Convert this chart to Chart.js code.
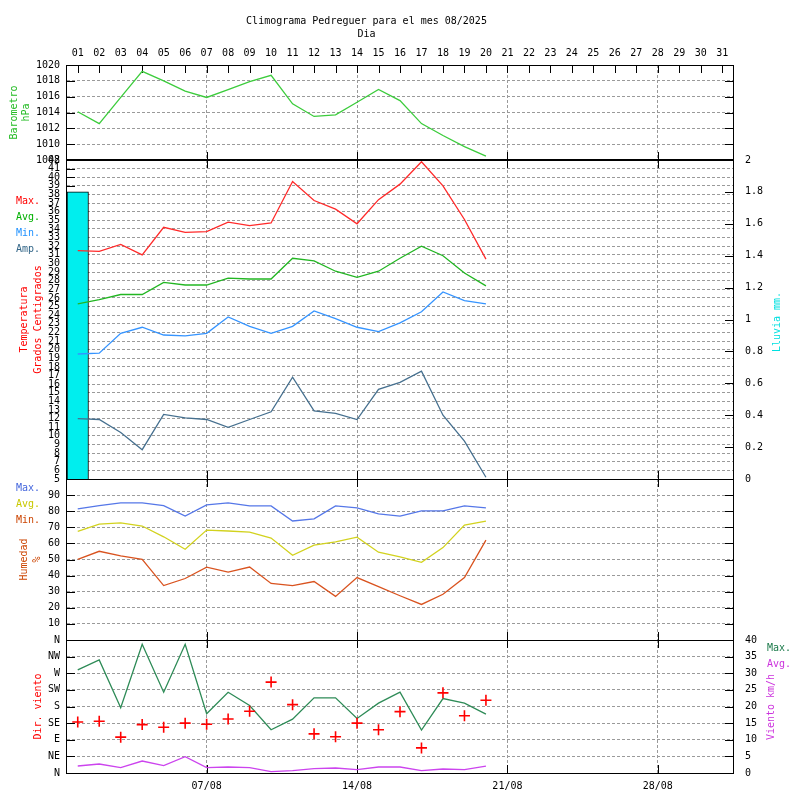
<!DOCTYPE html>
<html><head><meta charset="utf-8">
<script src="https://cdn.jsdelivr.net/npm/chart.js@4/dist/chart.umd.min.js"></script>
<style>
html,body{margin:0;padding:0;background:#fff;}
#wrap{position:relative;width:800px;height:800px;background:#fff;}
canvas{position:absolute;left:0;top:0;}
</style></head><body>
<div id="wrap">
<canvas id="c1" width="800" height="800"></canvas>
<canvas id="c2" width="800" height="800"></canvas>
<canvas id="c3" width="800" height="800"></canvas>
<canvas id="c4" width="800" height="800"></canvas>
</div>
<script>
// ---------- data ----------
const days = ['01','02','03','04','05','06','07','08','09','10','11','12','13','14','15','16','17','18','19','20','21','22','23','24','25','26','27','28','29','30','31'];
const weekLabels = ['07/08','14/08','21/08','28/08'];
const dirLabels = ['N','NE','E','SE','S','SW','W','NW','N'];

const pressure = [1014.1,1012.6,1015.9,1019.2,1018.0,1016.7,1015.9,1016.9,1017.9,1018.7,1015.1,1013.5,1013.7,1015.3,1016.9,1015.5,1012.6,1011.1,1009.7,1008.5];

const tempMax = [31.5,31.4,32.2,31.0,34.2,33.6,33.7,34.8,34.4,34.7,39.5,37.3,36.3,34.6,37.4,39.2,41.8,39.0,35.1,30.5];
const tempAvg = [25.3,25.8,26.4,26.4,27.8,27.5,27.5,28.3,28.2,28.2,30.6,30.3,29.1,28.4,29.1,30.6,32.0,30.9,28.9,27.4];
const tempMin = [19.5,19.6,21.9,22.6,21.7,21.6,21.9,23.8,22.7,21.9,22.7,24.5,23.6,22.6,22.1,23.1,24.4,26.7,25.7,25.3];
const tempAmp = [12.0,11.9,10.4,8.4,12.5,12.1,11.9,11.0,11.9,12.8,16.8,12.9,12.6,11.9,15.4,16.2,17.5,12.4,9.4,5.2];
const rain = [1.8];

const humMax = [81.4,83.5,85.2,85.2,83.5,77.0,83.9,85.2,83.3,83.3,73.9,75.2,83.3,82.1,78.3,77.0,80.2,80.2,83.3,82.1];
const humAvg = [67.4,72.0,72.7,70.8,64.1,56.4,68.3,67.7,67.0,63.3,52.6,58.9,61.0,63.9,54.5,51.6,48.2,57.4,71.4,73.9];
const humMin = [50.1,55.1,52.2,50.1,33.8,38.2,45.3,42.2,45.3,35.1,33.8,36.3,27.1,38.8,33.2,27.5,22.1,28.4,38.8,62.0];

const windMax = [31.0,34.0,19.6,38.7,24.3,38.7,17.8,24.3,20.3,13.0,16.2,22.6,22.6,16.4,21.0,24.3,12.9,22.4,21.0,17.7];
const windAvg = [2.1,2.7,1.6,3.6,2.2,4.9,1.6,1.8,1.6,0.4,0.7,1.3,1.5,1.0,1.8,1.8,0.7,1.2,1.0,2.1];
const windDir = [138,140,97,131,124,135,132,146,167,246,185,106,98,135,117,166,68,217,155,197];

// ---------- style ----------
const FONT = 'DejaVu Sans Mono';
Chart.defaults.font.family = FONT;
Chart.defaults.font.size = 10;
Chart.defaults.font.lineHeight = 1.2;
Chart.defaults.color = '#000';
Chart.defaults.animation = false;
Chart.defaults.plugins.legend.display = false;
Chart.defaults.plugins.tooltip.enabled = false;

const GRID = '#9a9a9a';
const DASH = [3,2];
const weekIdx = weekLabels.map(w => days.indexOf(w.slice(0,2)));
const xGridColor = c => weekIdx.includes(c.index) ? GRID : 'rgba(0,0,0,0)';
const yGridColor = c => (c.tick && (c.index === 0 || c.index === c.scale.ticks.length - 1)) ? 'rgba(0,0,0,0)' : GRID;
const plain = v => String(v);

// frame + inward tick marks
const framePlugin = {
  id: 'frame',
  beforeDatasetsDraw(chart, args, o) {
    const {ctx, chartArea: a} = chart;
    const x = chart.scales.x;
    const T = 7;
    ctx.save();
    ctx.strokeStyle = '#000'; ctx.lineWidth = 1;
    ctx.beginPath();
    x.ticks.forEach((t, i) => {
      const px = Math.round(x.getPixelForTick(i)) + 0.5;
      const major = weekIdx.includes(i);
      if (o.allTop || major) { ctx.moveTo(px, a.top); ctx.lineTo(px, a.top + T + 1); }
      if (major) { ctx.moveTo(px, a.bottom); ctx.lineTo(px, a.bottom - T - 1); }
    });
    const yl = chart.scales[o.left];
    yl.ticks.forEach((t, i) => {
      const py = Math.round(yl.getPixelForTick(i)) + 0.5;
      if (py > a.top + 1 && py < a.bottom - 1) { ctx.moveTo(a.left, py); ctx.lineTo(a.left + T + 1, py); }
    });
    const yr = chart.scales[o.right];
    yr.ticks.forEach((t, i) => {
      const py = Math.round(yr.getPixelForTick(i)) + 0.5;
      if (py > a.top + 1 && py < a.bottom - 1) { ctx.moveTo(a.right, py); ctx.lineTo(a.right - T - 1, py); }
    });
    ctx.stroke();
    ctx.restore();
  },
  afterDatasetsDraw(chart, args, o) {
    const {ctx, chartArea: a} = chart;
    ctx.save();
    ctx.strokeStyle = '#000'; ctx.lineWidth = 1;
    ctx.strokeRect(Math.round(a.left) - 0.5, Math.round(a.top) + 0.5, Math.round(a.right - a.left) + 1, Math.round(a.bottom - a.top));
    if (o.bottomWidth) {
      ctx.lineWidth = o.bottomWidth;
      ctx.beginPath();
      ctx.moveTo(a.left - 1, Math.round(a.bottom));
      ctx.lineTo(a.right + 1, Math.round(a.bottom));
      ctx.stroke();
    }
    ctx.restore();
  }
};

// side labels (series names in series colours) and bottom-to-top right titles
const sidePlugin = {
  id: 'side',
  afterDraw(chart, args, o) {
    const ctx = chart.ctx;
    ctx.save();
    ctx.font = '10px "' + FONT + '"';
    ctx.textBaseline = 'middle';
    ctx.textAlign = 'left';
    if (o.legend) {
      let i = 0;
      chart.data.datasets.forEach(ds => {
        if (!ds.side) return;
        ctx.fillStyle = ds.textColor || ds.borderColor;
        ctx.fillText(ds.label, o.legend.x, o.legend.y + i * o.legend.step);
        i++;
      });
    }
    if (o.vertical) {
      ctx.translate(o.vertical.x, o.vertical.y);
      ctx.rotate(-Math.PI / 2);
      ctx.textAlign = 'center';
      ctx.fillStyle = o.vertical.color;
      ctx.fillText(o.vertical.text, 0, 0);
    }
    ctx.restore();
  }
};
Chart.register(framePlugin, sidePlugin);

function xAxis(extra) {
  return Object.assign({
    type: 'category', offset: true,
    grid: {offset: false, drawTicks: false, color: xGridColor},
    border: {display: false, dash: DASH},
    ticks: {display: false},
    afterFit: s => { s.height = 0; }
  }, extra);
}
function leftAxis(min, max, step, title, cb) {
  return {
    position: 'left', min, max,
    ticks: {stepSize: step, autoSkip: false, maxTicksLimit: 100, padding: 7, callback: cb || plain},
    grid: {drawTicks: false, color: yGridColor},
    border: {display: false, dash: DASH},
    title: title,
    afterFit: s => { s.width = 67; }
  };
}
function rightAxis(min, max, step, cb) {
  return {
    position: 'right', min, max,
    ticks: {stepSize: step, autoSkip: false, maxTicksLimit: 100, padding: 12, callback: cb},
    grid: {display: false, drawTicks: false},
    border: {display: false},
    afterFit: s => { s.width = 67; }
  };
}
const line = (label, data, color, axis, side, textColor) => ({
  type: 'line', label, data, borderColor: color, backgroundColor: color, yAxisID: axis,
  borderWidth: 1.3, pointRadius: 0, tension: 0, side: side, textColor: textColor, order: 1
});

// ---------- Chart 1 : barometer ----------
new Chart(document.getElementById('c1'), {
  type: 'line',
  data: {labels: days, datasets: [line('Barometro', pressure, '#3ccc3c', 'y', false)]},
  options: {
    responsive: false,
    layout: {padding: {top: 0, bottom: 640, left: 0, right: 67}},
    plugins: {
      title: {display: true, text: 'Climograma Pedreguer para el mes 08/2025', color: '#000', font: {size: 10, weight: 'normal'}, padding: {top: 15, bottom: 0}},
      subtitle: {display: true, text: 'Dia', color: '#000', font: {size: 10, weight: 'normal'}, padding: {top: 1, bottom: 0}},
      frame: {allTop: true, bottomWidth: 2, left: 'y', right: 'y'}
    },
    scales: {
      x: xAxis({position: 'top', ticks: {display: true, padding: 6, autoSkip: false, maxRotation: 0}, afterFit: s => { s.height = 25; }}),
      y: leftAxis(1008, 1020, 2, {display: true, text: ['Barometro', 'hPa'], color: '#22bb22', padding: {top: 8, bottom: 0}, font: {size: 10}})
    }
  }
});

// ---------- Chart 2 : temperature + rain ----------
new Chart(document.getElementById('c2'), {
  type: 'line',
  data: {labels: days, datasets: [
    {type: 'bar', label: 'Lluvia', data: rain, yAxisID: 'rain', backgroundColor: '#00eeee', borderColor: '#000', borderWidth: 1, barPercentage: 1, categoryPercentage: 1, order: 10},
    line('Max.', tempMax, '#ff2a2a', 'temp', true, '#ff0000'),
    line('Avg.', tempAvg, '#22b622', 'temp', true, '#00b000'),
    line('Min.', tempMin, '#3594ff', 'temp', true, '#1e90ff'),
    line('Amp.', tempAmp, '#46708f', 'temp', true, '#336688')
  ]},
  options: {
    responsive: false,
    layout: {padding: {top: 160, bottom: 321, left: 0, right: 0}},
    plugins: {
      frame: {left: 'temp', right: 'rain'},
      side: {legend: {x: 16, y: 201, step: 16.3}, vertical: {text: 'Lluvia mm.', x: 777, y: 322, color: '#00e0e0'}}
    },
    scales: {
      x: xAxis({}),
      temp: leftAxis(5, 42, 1, {display: true, text: ['Temperatura', 'Grados Centigrados'], color: '#ff0000', padding: {top: 18, bottom: 0}, font: {size: 10, lineHeight: 1.35}}),
      rain: rightAxis(0, 2, 0.2, v => String(Math.round(v * 10) / 10))
    }
  }
});

// ---------- Chart 3 : humidity ----------
new Chart(document.getElementById('c3'), {
  type: 'line',
  data: {labels: days, datasets: [
    line('Max.', humMax, '#5577e8', 'hum', true, '#4466dd'),
    line('Avg.', humAvg, '#d2d21e', 'hum', true, '#c8c800'),
    line('Min.', humMin, '#d9531f', 'hum', true, '#cc4400')
  ]},
  options: {
    responsive: false,
    layout: {padding: {top: 479, bottom: 160, left: 0, right: 67}},
    plugins: {
      frame: {left: 'hum', right: 'hum'},
      side: {legend: {x: 16, y: 488, step: 16}}
    },
    scales: {
      x: xAxis({}),
      hum: leftAxis(0, 100, 10, {display: true, text: ['Humedad', '%'], color: '#cc4400', padding: {top: 18, bottom: 0}, font: {size: 10, lineHeight: 1.3}},
        v => (v === 0 || v === 100) ? '' : String(v))
    }
  }
});

// ---------- Chart 4 : wind ----------
new Chart(document.getElementById('c4'), {
  type: 'line',
  data: {labels: days, datasets: [
    line('Max.', windMax, '#2e8b57', 'spd', true, '#1b7a4a'),
    line('Avg.', windAvg, '#cc44ee', 'spd', true, '#cc33dd'),
    {type: 'line', label: 'Dir', data: windDir, yAxisID: 'dir', showLine: false, pointStyle: 'cross', pointRadius: 5.5, borderColor: '#ff0000', backgroundColor: '#ff0000', pointBorderWidth: 1.6, borderWidth: 1.6, order: 0}
  ]},
  options: {
    responsive: false,
    layout: {padding: {top: 640, bottom: 0, left: 0, right: 0}},
    plugins: {
      frame: {left: 'dir', right: 'spd'},
      side: {legend: {x: 767, y: 648, step: 16}, vertical: {text: 'Viento km/h', x: 771, y: 707, color: '#cc33dd'}}
    },
    scales: {
      x: xAxis({position: 'bottom', ticks: {display: true, padding: 7, autoSkip: false, maxRotation: 0,
        callback: (v, i) => { const w = weekLabels.find(l => l.slice(0,2) === days[i]); return w || ''; }},
        afterFit: s => { s.height = 27; }}),
      dir: leftAxis(0, 360, 45, {display: true, text: 'Dir. viento', color: '#ff0000', padding: {top: 32, bottom: 0}, font: {size: 10}},
        v => dirLabels[Math.round(v / 45)]),
      spd: rightAxis(0, 40, 5, plain)
    }
  }
});
</script>
</body></html>
